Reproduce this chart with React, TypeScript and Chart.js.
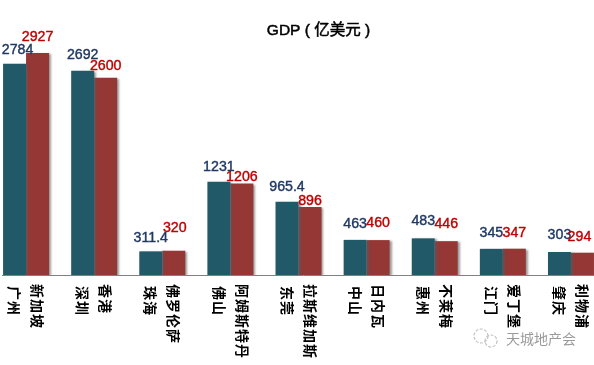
import React, { useEffect, useRef } from "react";
import { Chart, registerables } from "chart.js";

Chart.register(...registerables);

const cities = ["广州", "深圳", "珠海", "佛山", "东莞", "中山", "惠州", "江门", "肇庆"];
const partners = ["新加坡", "香港", "佛罗伦萨", "阿姆斯特丹", "拉斯维加斯", "日内瓦", "不莱梅", "爱丁堡", "利物浦"];
const cityValues = [2784, 2692, 311.4, 1231, 965.4, 463, 483, 345, 303];
const partnerValues = [2927, 2600, 320, 1206, 896, 460, 446, 347, 294];
const cityLabels = ["2784", "2692", "311.4", "1231", "965.4", "463", "483", "345", "303"];
const partnerLabels = ["2927", "2600", "320", "1206", "896", "460", "446", "347", "294"];
const cityLabelGaps = [10, 12, 9, 11, 11, 12, 13, 12, 13];
const partnerLabelGaps = [12, 8, 19, 3, 2, 13, 13, 12, 12];
const cityLabelShifts = [3, 0, 0, 0, 0, 0, 0, 0, 0];
const partnerLabelShifts = [0, 0, 1, 0, 0, 0, 0, 0, -3];
const titleText = "GDP ( 亿美元 )";
const watermark = "天城地产会";

const OFF = 8;
const SANS = "'Liberation Sans','Noto Sans CJK SC',sans-serif";
const CJK = "'Noto Sans CJK SC',sans-serif";

const drawingPlugin = {
  id: "drawing",
  beforeDatasetDraw(chart: any) {
    const ctx = chart.ctx;
    ctx.save();
    ctx.shadowColor = "rgba(90,90,90,0.6)";
    ctx.shadowBlur = 2;
    ctx.shadowOffsetX = 2;
    ctx.shadowOffsetY = 1;
  },
  afterDatasetDraw(chart: any) {
    chart.ctx.restore();
  },
  afterDraw(chart: any) {
    const ctx = chart.ctx;
    const y0 = chart.scales.y.getPixelForValue(0);
    ctx.save();
    ctx.strokeStyle = "#808080";
    ctx.lineWidth = 1;
    ctx.beginPath();
    ctx.moveTo(2 + OFF, y0 + 0.5);
    ctx.lineTo(chart.width, y0 + 0.5);
    ctx.stroke();
    ctx.restore();

    const texts = [cityLabels, partnerLabels];
    const gaps = [cityLabelGaps, partnerLabelGaps];
    const shifts = [cityLabelShifts, partnerLabelShifts];
    const colors = ["#1F3864", "#C00000"];
    texts.forEach((arr, d) => {
      const meta = chart.getDatasetMeta(d);
      arr.forEach((t, i) => {
        const el = meta.data[i];
        const x = el.x + shifts[d][i];
        const y = el.y - gaps[d][i];
        ctx.save();
        ctx.font = `14.2px ${SANS}`;
        ctx.fillStyle = colors[d];
        ctx.strokeStyle = colors[d];
        ctx.lineWidth = 0.4;
        ctx.textAlign = "center";
        ctx.textBaseline = "alphabetic";
        ctx.fillText(t, x, y);
        ctx.strokeText(t, x, y);
        ctx.restore();
      });
    });

    const rows = [cities, partners];
    const starts = [286, 284];
    rows.forEach((arr, d) => {
      const meta = chart.getDatasetMeta(d);
      arr.forEach((t, i) => {
        const el = meta.data[i];
        ctx.save();
        ctx.translate(el.x, starts[d]);
        ctx.rotate(Math.PI / 2);
        ctx.font = `bold 14px ${CJK}`;
        (ctx as any).letterSpacing = "1px";
        ctx.fillStyle = "#000000";
        ctx.textAlign = "left";
        ctx.textBaseline = "middle";
        ctx.fillText(t, 0, 0);
        ctx.restore();
      });
    });

    ctx.save();
    ctx.font = `15.5px ${SANS}`;
    ctx.fillStyle = "#000000";
    ctx.strokeStyle = "#000000";
    ctx.lineWidth = 0.5;
    ctx.textAlign = "center";
    ctx.textBaseline = "middle";
    ctx.fillText(titleText, 318.5 + OFF, 31);
    ctx.strokeText(titleText, 318.5 + OFF, 31);
    ctx.restore();

    ctx.save();
    ctx.font = `14px ${CJK}`;
    ctx.fillStyle = "#9a9a9a";
    ctx.textAlign = "left";
    ctx.textBaseline = "middle";
    ctx.fillText(watermark, 506 + OFF, 339);
    ctx.strokeStyle = "#c4c4c4";
    ctx.lineWidth = 1.2;
    ctx.setLineDash([3, 1.5]);
    ctx.beginPath();
    ctx.arc(481 + OFF, 336, 7, 0, Math.PI * 2);
    ctx.stroke();
    ctx.beginPath();
    ctx.arc(491 + OFF, 341, 6, 0, Math.PI * 2);
    ctx.stroke();
    ctx.restore();
  },
};

export default function App() {
  const ref = useRef<HTMLCanvasElement | null>(null);
  useEffect(() => {
    const chart = new Chart(ref.current as HTMLCanvasElement, {
      type: "bar",
      data: {
        labels: cities,
        datasets: [
          { label: "city", data: cityValues, backgroundColor: "#215968" },
          { label: "partner", data: partnerValues, backgroundColor: "#953735" },
        ],
      },
      options: {
        responsive: false,
        animation: false,
        layout: { padding: { top: 10, bottom: 90, left: 0, right: 0 } },
        datasets: { bar: { categoryPercentage: 0.675, barPercentage: 1 } },
        plugins: { legend: { display: false }, tooltip: { enabled: false }, title: { display: false } },
        scales: {
          x: { display: false, offset: true },
          y: { display: false, min: 0, max: 3494 },
        },
      } as any,
      plugins: [drawingPlugin],
    });
    return () => chart.destroy();
  }, []);
  return (
    <div style={{ position: "fixed", left: 0, top: 0, width: 594, height: 365, overflow: "hidden", background: "#fff" }}>
      <canvas ref={ref} width={613} height={365} style={{ position: "absolute", left: -OFF, top: 0, display: "block" }} />
    </div>
  );
}
